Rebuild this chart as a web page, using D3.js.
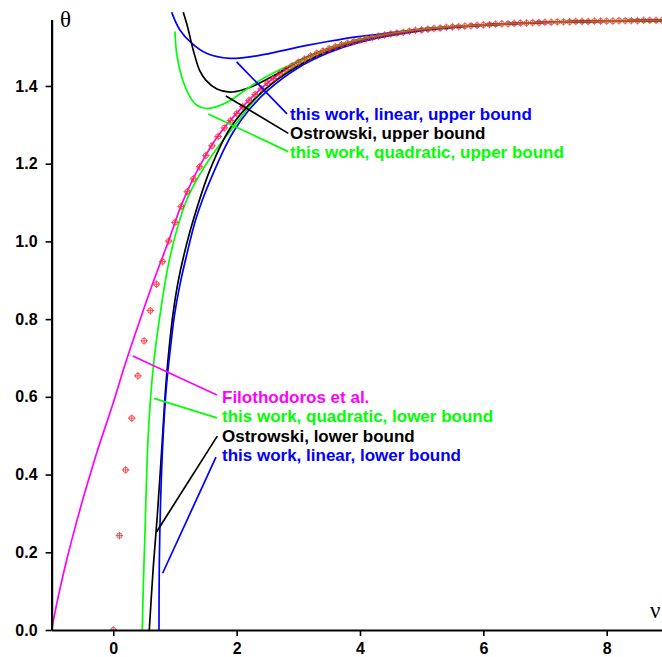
<!DOCTYPE html>
<html>
<head>
<meta charset="utf-8">
<script src="https://cdn.jsdelivr.net/npm/d3@7"></script>
<style>
  body { margin: 0; background: #fff; }
  svg { display: block; }
</style>
</head>
<body>
<svg width="662" height="657"></svg>
<script>
// exact values (markers), nu = 0 .. 8.9 step 0.1
var markerNu = d3.range(0, 90).map(function(i) { return i / 10; });
var markerTheta = [
  0.000, 0.243, 0.412, 0.545, 0.654, 0.744, 0.822, 0.890, 0.948, 1.001,
  1.049, 1.090, 1.128, 1.161, 1.192, 1.221, 1.246, 1.270, 1.292, 1.311,
  1.329, 1.347, 1.363, 1.378, 1.393, 1.407, 1.419, 1.431, 1.442, 1.452,
  1.461, 1.469, 1.477, 1.484, 1.490, 1.496, 1.501, 1.506, 1.510, 1.514,
  1.518, 1.522, 1.525, 1.528, 1.531, 1.534, 1.536, 1.538, 1.541, 1.543,
  1.544, 1.546, 1.548, 1.549, 1.551, 1.552, 1.553, 1.554, 1.555, 1.556,
  1.557, 1.558, 1.559, 1.560, 1.560, 1.561, 1.562, 1.562, 1.563, 1.563,
  1.564, 1.564, 1.565, 1.565, 1.565, 1.566, 1.566, 1.566, 1.567, 1.567,
  1.567, 1.567, 1.568, 1.568, 1.568, 1.568, 1.569, 1.569, 1.569, 1.569
];

// curves as [nu, theta]
var filothodoros = [[-1, 0], [-0.9, 0.08], [-0.756, 0.18], [-0.6, 0.275], [-0.45, 0.36], [-0.27, 0.455],
  [0, 0.585], [0.2, 0.688], [0.433, 0.798], [0.642, 0.893], [0.9, 1.003], [1.1, 1.092], [1.3, 1.163],
  [1.5, 1.222], [1.7, 1.272], [2.0, 1.330], [2.5, 1.408], [3.0, 1.462], [4.0, 1.519], [5.0, 1.545],
  [6.0, 1.557], [7.0, 1.564], [8.9, 1.569]];
var quadLower = [[0.47, 0], [0.49, 0.13], [0.514, 0.249], [0.568, 0.506], [0.649, 0.678], [0.73, 0.78],
  [0.876, 0.926], [1.028, 1.029], [1.19, 1.107], [1.35, 1.158], [1.568, 1.214], [1.784, 1.261],
  [2.0, 1.305], [2.3, 1.365], [2.6, 1.41], [3.0, 1.455], [4.0, 1.516], [5.0, 1.544], [6.0, 1.557],
  [7.0, 1.564], [8.9, 1.569]];
var ostrowskiLower = [[0.584, 0], [0.649, 0.163], [0.713, 0.292], [0.785, 0.463], [0.855, 0.635],
  [0.915, 0.74], [0.97, 0.815], [1.05, 0.895], [1.15, 0.968], [1.297, 1.055], [1.568, 1.184], [1.89, 1.29],
  [2.3, 1.368], [2.8, 1.432], [3.5, 1.49], [4.5, 1.531], [5.5, 1.551], [7.0, 1.564], [8.9, 1.569]];
var linearLower = [[0.741, 0], [0.746, 0.163], [0.768, 0.335], [0.811, 0.506], [0.866, 0.635],
  [0.93, 0.73], [0.99, 0.808], [1.08, 0.888], [1.19, 0.965], [1.325, 1.05], [1.46, 1.113], [1.62, 1.175],
  [1.78, 1.232], [1.95, 1.283], [2.2, 1.338], [2.5, 1.388], [3.0, 1.447], [3.5, 1.486], [4.0, 1.513],
  [5.0, 1.543], [6.0, 1.556], [7.0, 1.563], [8.9, 1.569]];
var quadUpper = [[1.0, 1.54], [1.028, 1.484], [1.109, 1.424], [1.244, 1.372], [1.35, 1.351],
  [1.51, 1.342], [1.7, 1.348], [1.89, 1.362], [2.1, 1.385], [2.38, 1.415], [2.7, 1.442], [3.0, 1.463],
  [3.5, 1.497], [4.0, 1.52], [5.0, 1.546], [6.0, 1.557], [7.0, 1.564], [8.9, 1.569]];
var ostrowskiUpper = [[1.135, 1.59], [1.2, 1.555], [1.297, 1.492], [1.4, 1.44], [1.5, 1.415],
  [1.68, 1.392], [1.89, 1.384], [2.1, 1.39], [2.3, 1.402], [2.62, 1.428], [3.0, 1.464], [3.5, 1.497],
  [4.0, 1.52], [5.0, 1.546], [6.0, 1.557], [7.0, 1.564], [8.9, 1.569]];
var linearUpper = [[0.946, 1.59], [1.08, 1.544], [1.27, 1.51], [1.51, 1.484], [1.89, 1.471],
  [2.35, 1.478], [2.54, 1.484], [3.16, 1.505], [3.5, 1.515], [3.97, 1.527], [4.41, 1.535],
  [4.97, 1.546], [5.5, 1.552], [6.0, 1.557], [7.0, 1.564], [8.9, 1.569]];

var curveNames = ["Filothodoros et al.", "this work, quadratic, lower bound", "Ostrowski, lower bound",
  "this work, linear, lower bound", "this work, linear, upper bound", "Ostrowski, upper bound",
  "this work, quadratic, upper bound"];
var curveData = [filothodoros, quadLower, ostrowskiLower, linearLower, linearUpper, ostrowskiUpper, quadUpper];
var curveColors = ["#ff00ff", "#00ff00", "#000000", "#0000ff", "#0000ff", "#000000", "#00ff00"];

// leader lines: from point on curve to label, [nu, theta]
var leaderFrom = [[0.315, 0.705], [0.66, 0.596], [0.704, 0.253], [0.80, 0.146], [2.0, 1.462], [1.827, 1.374], [1.54, 1.328]];
var leaderTo = [[1.68, 0.605], [1.68, 0.546], [1.686, 0.499], [1.665, 0.445], [2.817, 1.328], [2.838, 1.278], [2.838, 1.231]];
var labelAt = [[1.763, 0.584], [1.763, 0.534], [1.763, 0.484], [1.763, 0.434], [2.865, 1.312], [2.865, 1.264], [2.865, 1.215]];

var xMajor = [0, 2, 4, 6, 8];
var xMinor = d3.range(-2, 23).map(function(i) { return i * 0.4; }).filter(function(v) { return Math.abs(v / 2 - Math.round(v / 2)) > 1e-6; });
var yMajor = [0, 0.2, 0.4, 0.6, 0.8, 1.0, 1.2, 1.4];
var yMinor = d3.range(1, 40).map(function(i) { return i * 0.04; }).filter(function(v) { return Math.abs(v / 0.2 - Math.round(v / 0.2)) > 1e-6; });

var svg = d3.select("svg");

var x = d3.scaleLinear().domain([-1, 8.9]).range([51.6, 662.2]);
var y = d3.scaleLinear().domain([0, Math.PI / 2]).range([630, 19.6]);

var line = d3.line()
    .x(function(d) { return x(d[0]); })
    .y(function(d) { return y(d[1]); })
    .curve(d3.curveCatmullRom.alpha(0.5));

svg.append("clipPath").attr("id", "clip")
  .append("rect").attr("x", x(-1)).attr("y", 0).attr("width", 662 - x(-1)).attr("height", y(0));

var plot = svg.append("g").attr("clip-path", "url(#clip)");

plot.selectAll("path.curve")
  .data(curveData)
  .enter().append("path")
    .attr("class", "curve")
    .attr("d", line)
    .attr("fill", "none")
    .attr("stroke", function(d, i) { return curveColors[i]; })
    .attr("stroke-width", 1.7);

// markers
var markers = plot.selectAll("g.marker")
  .data(markerNu.map(function(v, i) { return [v, markerTheta[i]]; }))
  .enter().append("g")
    .attr("class", "marker")
    .attr("transform", function(d) { return "translate(" + x(d[0]) + "," + y(d[1]) + ")"; })
    .attr("stroke", "#ff2a2a")
    .attr("stroke-width", 1)
    .attr("fill", "none")
    .attr("opacity", 0.85);
markers.append("circle").attr("r", 2.6);
markers.append("path").attr("d", "M-3.8,0H3.8M0,-3.8V3.8");

// annotations
var ann = svg.append("g");
ann.selectAll("line")
  .data(leaderFrom)
  .enter().append("line")
    .attr("x1", function(d) { return x(d[0]); })
    .attr("y1", function(d) { return y(d[1]); })
    .attr("x2", function(d, i) { return x(leaderTo[i][0]); })
    .attr("y2", function(d, i) { return y(leaderTo[i][1]); })
    .attr("stroke", function(d, i) { return curveColors[i]; })
    .attr("stroke-width", 1.7);
ann.selectAll("text")
  .data(curveNames)
  .enter().append("text")
    .attr("x", function(d, i) { return x(labelAt[i][0]); })
    .attr("y", function(d, i) { return y(labelAt[i][1]); })
    .attr("fill", function(d, i) { return curveColors[i]; })
    .style("font-family", "'Liberation Sans', Arial, sans-serif")
    .style("font-weight", "bold")
    .style("font-size", "17px")
    .text(function(d) { return d; });

// axes
var gx = svg.append("g").attr("transform", "translate(0," + y(0) + ")");
gx.call(d3.axisBottom(x).tickValues(xMinor).tickSize(4).tickSizeOuter(0).tickFormat(""));
gx.call(d3.axisBottom(x).tickValues(xMajor).tickSize(6).tickSizeOuter(0).tickPadding(7).tickFormat(d3.format("d")));

var gy = svg.append("g").attr("transform", "translate(" + x(-1) + ",0)");
gy.call(d3.axisLeft(y).tickValues(yMinor).tickSize(4).tickSizeOuter(0).tickFormat(""));
gy.call(d3.axisLeft(y).tickValues(yMajor).tickSize(6).tickSizeOuter(0).tickPadding(8).tickFormat(d3.format(".1f")));

svg.selectAll(".domain").attr("stroke-width", 2.2);
svg.selectAll(".tick line").attr("stroke-width", 1.6);
svg.selectAll(".tick text")
    .style("font-family", "'Liberation Sans', Arial, sans-serif")
    .style("font-weight", "bold")
    .style("font-size", "16px");

svg.append("text").attr("x", 60).attr("y", 27)
  .style("font-family", "'Liberation Serif', 'Times New Roman', serif").style("font-size", "23px")
  .text("θ");
svg.append("text").attr("x", 650).attr("y", 618)
  .style("font-family", "'Liberation Serif', 'Times New Roman', serif").style("font-size", "23px")
  .text("ν");
</script>
</body>
</html>
